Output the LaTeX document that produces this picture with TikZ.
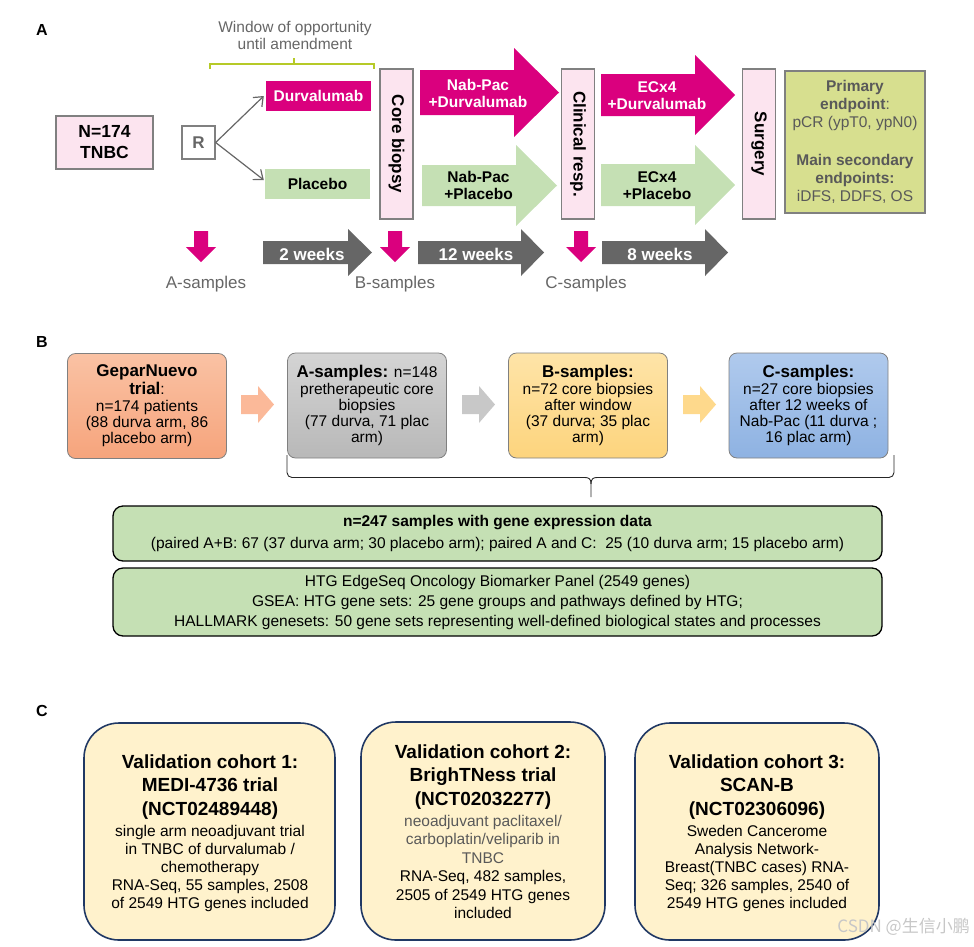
\documentclass[tikz,border=0pt]{standalone}
\usepackage{fontspec}
\setmainfont{Liberation Sans}
\newfontfamily\cjkfont{Noto Sans CJK SC}
\usetikzlibrary{arrows.meta}
\newcommand{\myfs}[2]{\fontsize{#1}{#2}\selectfont}
\definecolor{mag}{RGB}{218,0,126}
\definecolor{lgreen}{RGB}{197,224,180}
\definecolor{pinkf}{RGB}{252,228,239}
\definecolor{bgray}{RGB}{128,128,128}
\definecolor{dgray}{RGB}{102,102,102}
\definecolor{txtgray}{RGB}{89,89,89}
\definecolor{epfill}{RGB}{215,223,143}
\definecolor{bracegreen}{RGB}{182,202,40}
\definecolor{salmonT}{RGB}{250,194,164}
\definecolor{salmonB}{RGB}{246,164,124}
\definecolor{salmonA}{RGB}{251,185,153}
\definecolor{grayT}{RGB}{212,212,212}
\definecolor{grayB}{RGB}{184,184,184}
\definecolor{grayA}{RGB}{200,200,200}
\definecolor{yelT}{RGB}{254,228,168}
\definecolor{yelB}{RGB}{253,212,125}
\definecolor{yelA}{RGB}{254,217,140}
\definecolor{bluT}{RGB}{176,202,237}
\definecolor{bluB}{RGB}{142,178,226}
\definecolor{cream}{RGB}{255,242,204}
\definecolor{navy}{RGB}{32,56,100}
% color, x1, x2 (head base), xtip, yc, body half, head half
\newcommand{\blockarr}[7]{\fill[#1] ({#2},{#5-#6}) -- ({#3},{#5-#6}) -- ({#3},{#5-#7}) -- ({#4},{#5}) -- ({#3},{#5+#7}) -- ({#3},{#5+#6}) -- ({#2},{#5+#6}) -- cycle;}
\newcommand{\downarr}[1]{\fill[mag] ({#1-7},231) -- ({#1+7},231) -- ({#1+7},247) -- ({#1+15},247) -- ({#1},262) -- ({#1-15},247) -- ({#1-7},247) -- cycle;}
\tikzset{
 lbl/.style={font=\myfs{16}{18}\bfseries},
 pinkbox/.style={draw=bgray, fill=pinkf, line width=1.3pt, inner sep=0pt},
 vbox/.style={pinkbox, rotate=-90, minimum width=150, minimum height=33, font=\myfs{17}{18}\bfseries},
 wtxt/.style={text=white, font=\myfs{15.5}{17.5}\bfseries, align=center},
 btxt/.style={text=black, font=\myfs{15.5}{17.5}\bfseries, align=center},
 wk/.style={text=white, font=\myfs{17}{18}\bfseries},
 samp/.style={text=dgray, font=\myfs{17}{18}},
 bbox/.style={draw=bgray, line width=0.8pt, rounded corners=8pt, minimum width=159, minimum height=105, inner sep=0pt, align=center, font=\myfs{15.5}{16.2}},
 gbox/.style={draw=black, fill=lgreen, line width=1.3pt, rounded corners=10pt, minimum width=769, inner sep=0pt, align=center},
 cbox/.style={draw=navy, fill=cream, line width=1.6pt, rounded corners=35pt, minimum height=217, inner sep=0pt},
 ctitle/.style={font=\myfs{19}{23.8}\bfseries, align=center},
 cbody/.style={font=\myfs{15.5}{18}, align=center},
 thinarr/.style={draw=dgray, line width=1.2pt, -{Straight Barb[length=8pt,width=13pt]}},
}
\begin{document}
\begin{tikzpicture}[x=1pt,y=-1pt]
\useasboundingbox (0,0) rectangle (974,946);
% ---------------- Panel A
\node[lbl] (labA) at (42,30) {A};
\node[text=dgray, font=\myfs{15.5}{17}, align=center] (win) at (295,35.5) {Window of opportunity\\until amendment};
\draw[bracegreen, line width=2pt] (210,69) -- (210,64) -- (374,64) -- (374,69);
\draw[bracegreen, line width=2pt] (294,64) -- (294,58);

\node[pinkbox, minimum width=97, minimum height=53, align=center, font=\myfs{17.5}{21}\bfseries] (n174) at (104.5,142.5) {N=174\\TNBC};
\node[draw=bgray, fill=white, line width=1.3pt, minimum size=33, inner sep=0pt, text=dgray, font=\myfs{17}{18}\bfseries] (R) at (198.5,142.5) {R};
\node[fill=mag, minimum width=105, minimum height=30, inner sep=0pt, text=white, font=\myfs{15.5}{17}\bfseries] (durv) at (318.5,96) {Durvalumab};
\node[fill=lgreen, minimum width=105, minimum height=30, inner sep=0pt, text=black, font=\myfs{15.5}{17}\bfseries] (plac) at (317.5,184) {Placebo};
\draw[thinarr] (R.east) -- ([xshift=-2pt]durv.west);
\draw[thinarr] (R.east) -- ([xshift=-1pt,yshift=4pt]plac.west);

\node[vbox] (core) at (396.5,144) {Core biopsy};
\node[vbox] (clin) at (578,144) {Clinical resp.};
\node[vbox] (surg) at (759,144) {Surgery};

\node[draw=bgray, fill=epfill, line width=1.3pt, minimum width=140, minimum height=142, inner sep=0pt] (endp) at (855,142) {};
\node[text=txtgray, font=\myfs{15.5}{18}, align=center] (ep1) at (855,105) {\textbf{Primary}\\\textbf{endpoint}:\\pCR (ypT0, ypN0)};
\node[text=txtgray, font=\myfs{15.5}{18}, align=center] (ep2) at (855,179) {\textbf{Main secondary}\\\textbf{endpoints:}\\iDFS, DDFS, OS};

\blockarr{mag}{420}{514}{559}{92.5}{22.5}{44.5}
\node[wtxt] (t1) at (478,93.5) {Nab-Pac\\+Durvalumab};
\blockarr{lgreen}{422}{516}{557}{185.5}{20.5}{40.5}
\node[btxt] (t2) at (478.5,185.5) {Nab-Pac\\+Placebo};
\blockarr{mag}{601}{695}{735}{95}{21}{40}
\node[wtxt] (t3) at (657,95.5) {ECx4\\+Durvalumab};
\blockarr{lgreen}{601}{695}{735}{185}{21}{40}
\node[btxt] (t4) at (657,185.5) {ECx4\\+Placebo};

\downarr{201}
\downarr{395}
\downarr{581}
\blockarr{dgray}{263}{348}{372}{252.5}{11.5}{23.5}
\node[wk] (w2) at (312,254) {2 weeks};
\blockarr{dgray}{418}{521}{544}{252.5}{11.5}{23.5}
\node[wk] (w12) at (476,254) {12 weeks};
\blockarr{dgray}{602}{705}{728}{252.5}{11.5}{23.5}
\node[wk] (w8) at (660,254) {8 weeks};

\node[samp] (sa) at (206,284) {A-samples};
\node[samp] (sb) at (395,284) {B-samples};
\node[samp] (sc) at (586,284) {C-samples};

% ---------------- Panel B
\node[lbl] (labB) at (42,342) {B};
\node[bbox, top color=salmonT, bottom color=salmonB] (gep) at (147,406)
 {{\myfs{17}{18}\bfseries GeparNuevo}\\[1.5pt]{\myfs{17}{18}\bfseries trial}:\\[1pt]n=174 patients\\(88 durva arm, 86\\placebo arm)};
\node[bbox, top color=grayT, bottom color=grayB] (asamp) at (367,405.5)
 {{\myfs{17}{18}\bfseries A-samples:} n=148\\[1pt]pretherapeutic core\\biopsies\\(77 durva, 71 plac\\arm)};
\node[bbox, top color=yelT, bottom color=yelB] (bsamp) at (588,405.5)
 {{\myfs{17}{18}\bfseries B-samples:}\\[1pt]n=72 core biopsies\\after window\\(37 durva; 35 plac\\arm)};
\node[bbox, top color=bluT, bottom color=bluB] (csamp) at (808.5,405.5)
 {{\myfs{17}{18}\bfseries C-samples:}\\[1pt]n=27 core biopsies\\after 12 weeks of\\Nab-Pac (11 durva ;\\16 plac arm)};
\blockarr{salmonA}{241}{258}{274}{404.5}{9.5}{18.5}
\blockarr{grayA}{462}{479}{495}{404.5}{9.5}{18.5}
\blockarr{yelA}{683}{700}{716}{404.5}{9.5}{18.5}

\draw[black!85, line width=0.9pt, rounded corners=5pt] (287,455) -- (287,477.5) -- (585,477.5);
\draw[black!85, line width=0.9pt, rounded corners=5pt] (597,477.5) -- (894,477.5) -- (894,455);
\draw[black!85, line width=0.9pt] (585,477.5) .. controls (589,477.5) and (591,479) .. (591,484) -- (591,497);
\draw[black!85, line width=0.9pt] (597,477.5) .. controls (593,477.5) and (591,479) .. (591,484);

\node[gbox, minimum height=55, font=\myfs{15.5}{22}] (g1) at (497.5,533.5)
 {\textbf{n=247 samples with gene expression data}\\(paired A+B: 67 (37 durva arm; 30 placebo arm); paired A and C: \ 25 (10 durva arm; 15 placebo arm)};
\node[gbox, minimum height=68, font=\myfs{15.5}{20}] (g2) at (497.5,602)
 {HTG EdgeSeq Oncology Biomarker Panel (2549 genes)\\GSEA: HTG gene sets: 25 gene groups and pathways defined by HTG;\\HALLMARK genesets: 50 gene sets representing well-defined biological states and processes};

% ---------------- Panel C
\node[lbl] (labC) at (42,711) {C};
\node[cbox, minimum width=251] (c1) at (209.5,831.5) {};
\node[ctitle] (c1t) at (210,787) {Validation cohort 1:\\MEDI-4736 trial\\(NCT02489448)};
\node[cbody] (c1b) at (210,868) {single arm neoadjuvant trial\\in TNBC of durvalumab /\\chemotherapy\\RNA-Seq, 55 samples, 2508\\of 2549 HTG genes included};

\node[cbox, minimum width=244, minimum height=218] (c2) at (483,831) {};
\node[ctitle] (c2t) at (483,777) {Validation cohort 2:\\BrighTNess trial\\(NCT02032277)};
\node[cbody, font=\myfs{15.5}{18.4}] (c2b) at (483,867) {\textcolor{txtgray}{neoadjuvant paclitaxel/}\\\textcolor{txtgray}{carboplatin/veliparib in}\\\textcolor{txtgray}{TNBC}\\RNA-Seq, 482 samples,\\2505 of 2549 HTG genes\\included};

\node[cbox, minimum width=244] (c3) at (757,831.5) {};
\node[ctitle] (c3t) at (757,787) {Validation cohort 3:\\SCAN-B\\(NCT02306096)};
\node[cbody] (c3b) at (757,868) {Sweden Cancerome\\Analysis Network-\\Breast(TNBC cases) RNA-\\Seq; 326 samples, 2540 of\\2549 HTG genes included};

\node[text=black!22, font=\cjkfont\myfs{17}{18}, anchor=east, inner sep=0pt] (wm) at (970,927) {CSDN @生信小鹏};
\end{tikzpicture}
\end{document}
